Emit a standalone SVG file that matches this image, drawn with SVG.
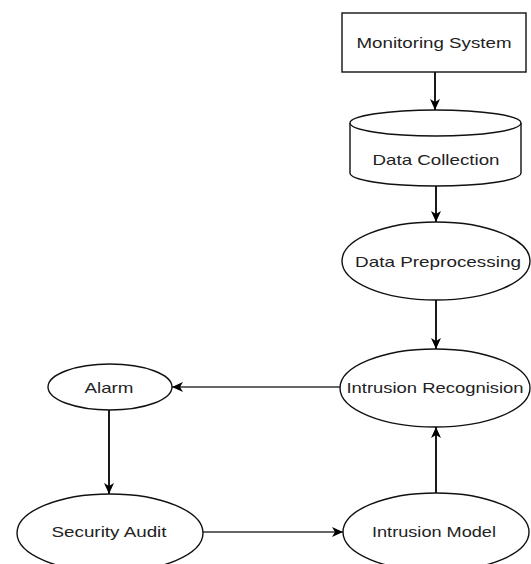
<svg xmlns="http://www.w3.org/2000/svg" width="531" height="564" viewBox="0 0 531 564">
<style>
.node{fill:#fff;stroke:#111;stroke-width:1.4}
.lbl{font-family:"Liberation Sans",Arial,sans-serif;font-size:15px;fill:#222;text-anchor:middle}
.v{fill:none;stroke:#000;stroke-width:1.8}
.h{fill:none;stroke:#333;stroke-width:1.3}
</style>
<defs>
<marker id="arr" markerUnits="userSpaceOnUse" markerWidth="12" markerHeight="10" refX="11" refY="5" orient="auto">
<path d="M0,0 L11,5 L0,10 L3,5 Z" fill="#000"/>
</marker>
</defs>
<rect width="531" height="564" fill="#fff"/>
<g id="connectors">
<line class="v" x1="435" y1="72" x2="435" y2="110" marker-end="url(#arr)"/>
<line class="v" x1="436" y1="186" x2="436" y2="222" marker-end="url(#arr)"/>
<line class="v" x1="436" y1="300" x2="436" y2="349" marker-end="url(#arr)"/>
<line class="h" x1="340" y1="387" x2="172" y2="387" marker-end="url(#arr)"/>
<line class="v" x1="109" y1="410" x2="109" y2="494" marker-end="url(#arr)"/>
<line class="h" x1="203" y1="532" x2="343" y2="532" marker-end="url(#arr)"/>
<line class="v" x1="436" y1="493" x2="436" y2="427" marker-end="url(#arr)"/>
</g>
<g id="monitoring-system">
<rect class="node" x="342" y="13" width="184" height="59"/>
<text class="lbl" x="434" y="48" textLength="155" lengthAdjust="spacingAndGlyphs">Monitoring System</text>
</g>
<g id="data-collection">
<path class="node" d="M350,123 A85.5,13 0 0 1 521,123 L521,173 A85.5,13 0 0 1 350,173 Z"/>
<path class="node" fill="none" d="M350,123 A85.5,13 0 0 0 521,123"/>
<text class="lbl" x="436" y="165" textLength="127" lengthAdjust="spacingAndGlyphs">Data Collection</text>
</g>
<g id="data-preprocessing">
<ellipse class="node" cx="436" cy="261" rx="94" ry="39"/>
<text class="lbl" x="438" y="267" textLength="166" lengthAdjust="spacingAndGlyphs">Data Preprocessing</text>
</g>
<g id="intrusion-recognition">
<ellipse class="node" cx="435" cy="388" rx="95" ry="39"/>
<text class="lbl" x="435" y="393" textLength="177" lengthAdjust="spacingAndGlyphs">Intrusion Recognision</text>
</g>
<g id="alarm">
<ellipse class="node" cx="110" cy="387" rx="62" ry="23"/>
<text class="lbl" x="109" y="393" textLength="49" lengthAdjust="spacingAndGlyphs">Alarm</text>
</g>
<g id="security-audit">
<ellipse class="node" cx="110" cy="533" rx="93" ry="39"/>
<text class="lbl" x="109" y="537" textLength="115" lengthAdjust="spacingAndGlyphs">Security Audit</text>
</g>
<g id="intrusion-model">
<ellipse class="node" cx="436" cy="532" rx="93" ry="39"/>
<text class="lbl" x="434" y="537" textLength="124" lengthAdjust="spacingAndGlyphs">Intrusion Model</text>
</g>
</svg>
